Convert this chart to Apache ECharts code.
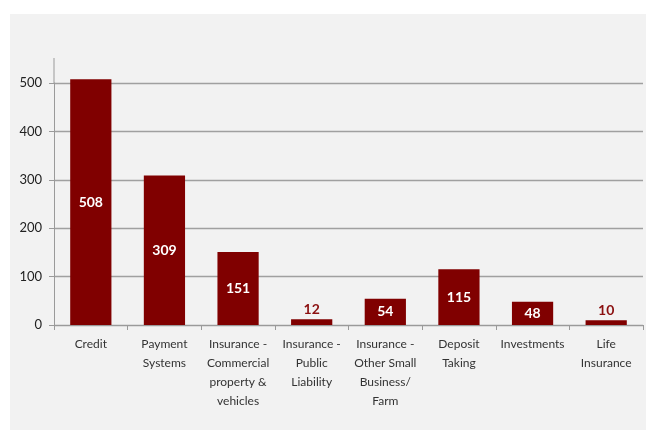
<!DOCTYPE html>
<html>
<head>
<meta charset="utf-8">
<script src="https://cdn.jsdelivr.net/npm/echarts@6/dist/echarts.min.js"></script>
<style>
html,body{margin:0;padding:0;background:#fff;width:646px;height:430px;overflow:hidden;}
#c{position:absolute;left:10px;top:14px;width:636px;height:416px;}
</style>
</head>
<body>
<div id="c"></div>
<script>
const categories = ["Credit", "Payment\nSystems", "Insurance -\nCommercial\nproperty &\nvehicles", "Insurance -\nPublic\nLiability", "Insurance -\nOther Small\nBusiness/\nFarm", "Deposit\nTaking", "Investments", "Life\nInsurance"];
const values = [508, 309, 151, 12, 54, 115, 48, 10];
const yTicks = [0, 100, 200, 300, 400, 500];

const barColor = '#800000';
const fontFam = 'Lato, "Open Sans", sans-serif';

const chart = echarts.init(document.getElementById('c'), null, {renderer: 'canvas'});
const data = values.map(v => {
  if (v < 30) {
    return {value: v, label: {position: 'top', color: '#8b1010', distance: 3}};
  }
  return v;
});
chart.setOption({
  backgroundColor: '#f2f2f2',
  animation: false,
  grid: {left: 44, top: 69, right: 3, bottom: 105},
  xAxis: {
    type: 'category',
    data: categories,
    axisLine: {lineStyle: {color: '#9a9a9a', width: 1}},
    axisTick: {show: true, length: 5, lineStyle: {color: '#9a9a9a'}},
    axisLabel: {interval: 0, color: '#333', fontSize: 12, fontFamily: fontFam, lineHeight: 19, margin: 10}
  },
  yAxis: {
    type: 'value',
    min: yTicks[0],
    max: yTicks[yTicks.length - 1],
    interval: 100,
    axisLine: {show: true, lineStyle: {color: '#9a9a9a', width: 1}},
    axisTick: {show: true, length: 5, lineStyle: {color: '#9a9a9a'}},
    axisLabel: {color: '#222', fontSize: 13, fontFamily: fontFam, margin: 12},
    splitLine: {show: true, lineStyle: {color: '#a0a0a0', width: 1.3}}
  },
  graphic: [{
    type: 'line',
    shape: {x1: 44, y1: 44, x2: 44, y2: 69},
    style: {stroke: '#9a9a9a', lineWidth: 1}
  }],
  series: [{
    type: 'bar',
    data: data,
    clip: false,
    barWidth: '56%',
    itemStyle: {color: barColor},
    label: {
      show: true,
      position: 'inside',
      color: '#fff',
      fontWeight: 'bold',
      fontSize: 14,
      fontFamily: fontFam
    }
  }]
});
</script>
</body>
</html>
